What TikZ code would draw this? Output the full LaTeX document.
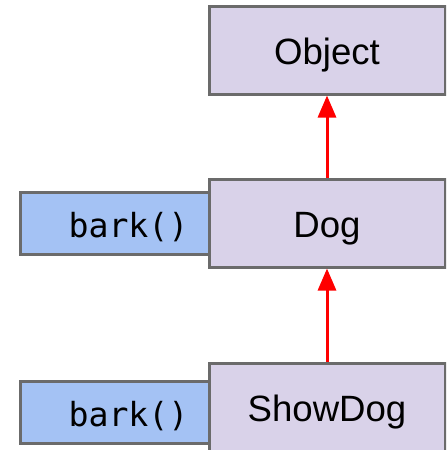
\documentclass[tikz,border=0pt]{standalone}
\usepackage{fontspec}
\setmainfont{Liberation Sans}
\setmonofont{DejaVu Sans Mono}
\usepackage{tikz}
\usetikzlibrary{arrows.meta}

\definecolor{classfill}{HTML}{D9D2E9}
\definecolor{methodfill}{HTML}{A4C2F4}
\definecolor{boxline}{HTML}{6B6B6B}

\tikzset{
  classbox/.style={draw=boxline, fill=classfill, line width=1.5pt, minimum width=118pt,
    minimum height=44pt, inner sep=0pt, text height=17pt, text depth=3pt,
    font=\fontsize{18.3}{22}\selectfont},
  methodbox/.style={draw=boxline, fill=methodfill, line width=1.5pt, minimum width=94.5pt,
    minimum height=31pt, inner sep=0pt, text height=17pt, text depth=3pt,
    font=\ttfamily\fontsize{16.6}{20}\selectfont},
  inherit/.style={draw=red, line width=1.5pt, -{Triangle[length=11pt,width=9pt]}}
}

\begin{document}
\begin{tikzpicture}[x=0.5pt,y=-0.5pt,line join=miter]

% page area
\useasboundingbox (0,0) rectangle (446,450);
\clip (0,0) rectangle (446,450);

% overridden methods (drawn first, the class boxes sit on top)
\node[methodbox] (bark1) at (114.5,223) {\hspace*{14pt}bark()};
\node[methodbox] (bark2) at (114.5,412) {\hspace*{14pt}bark()};

% classes
\node[classbox] (object) at (327,50) {Object};
\node[classbox] (dog) at (327,223) {Dog};
\node[classbox] (showdog) at (327,407) {ShowDog};

% inheritance arrows
\draw[inherit] (dog.north) -- (object.south);
\draw[inherit] (showdog.north) -- (dog.south);

\end{tikzpicture}
\end{document}
